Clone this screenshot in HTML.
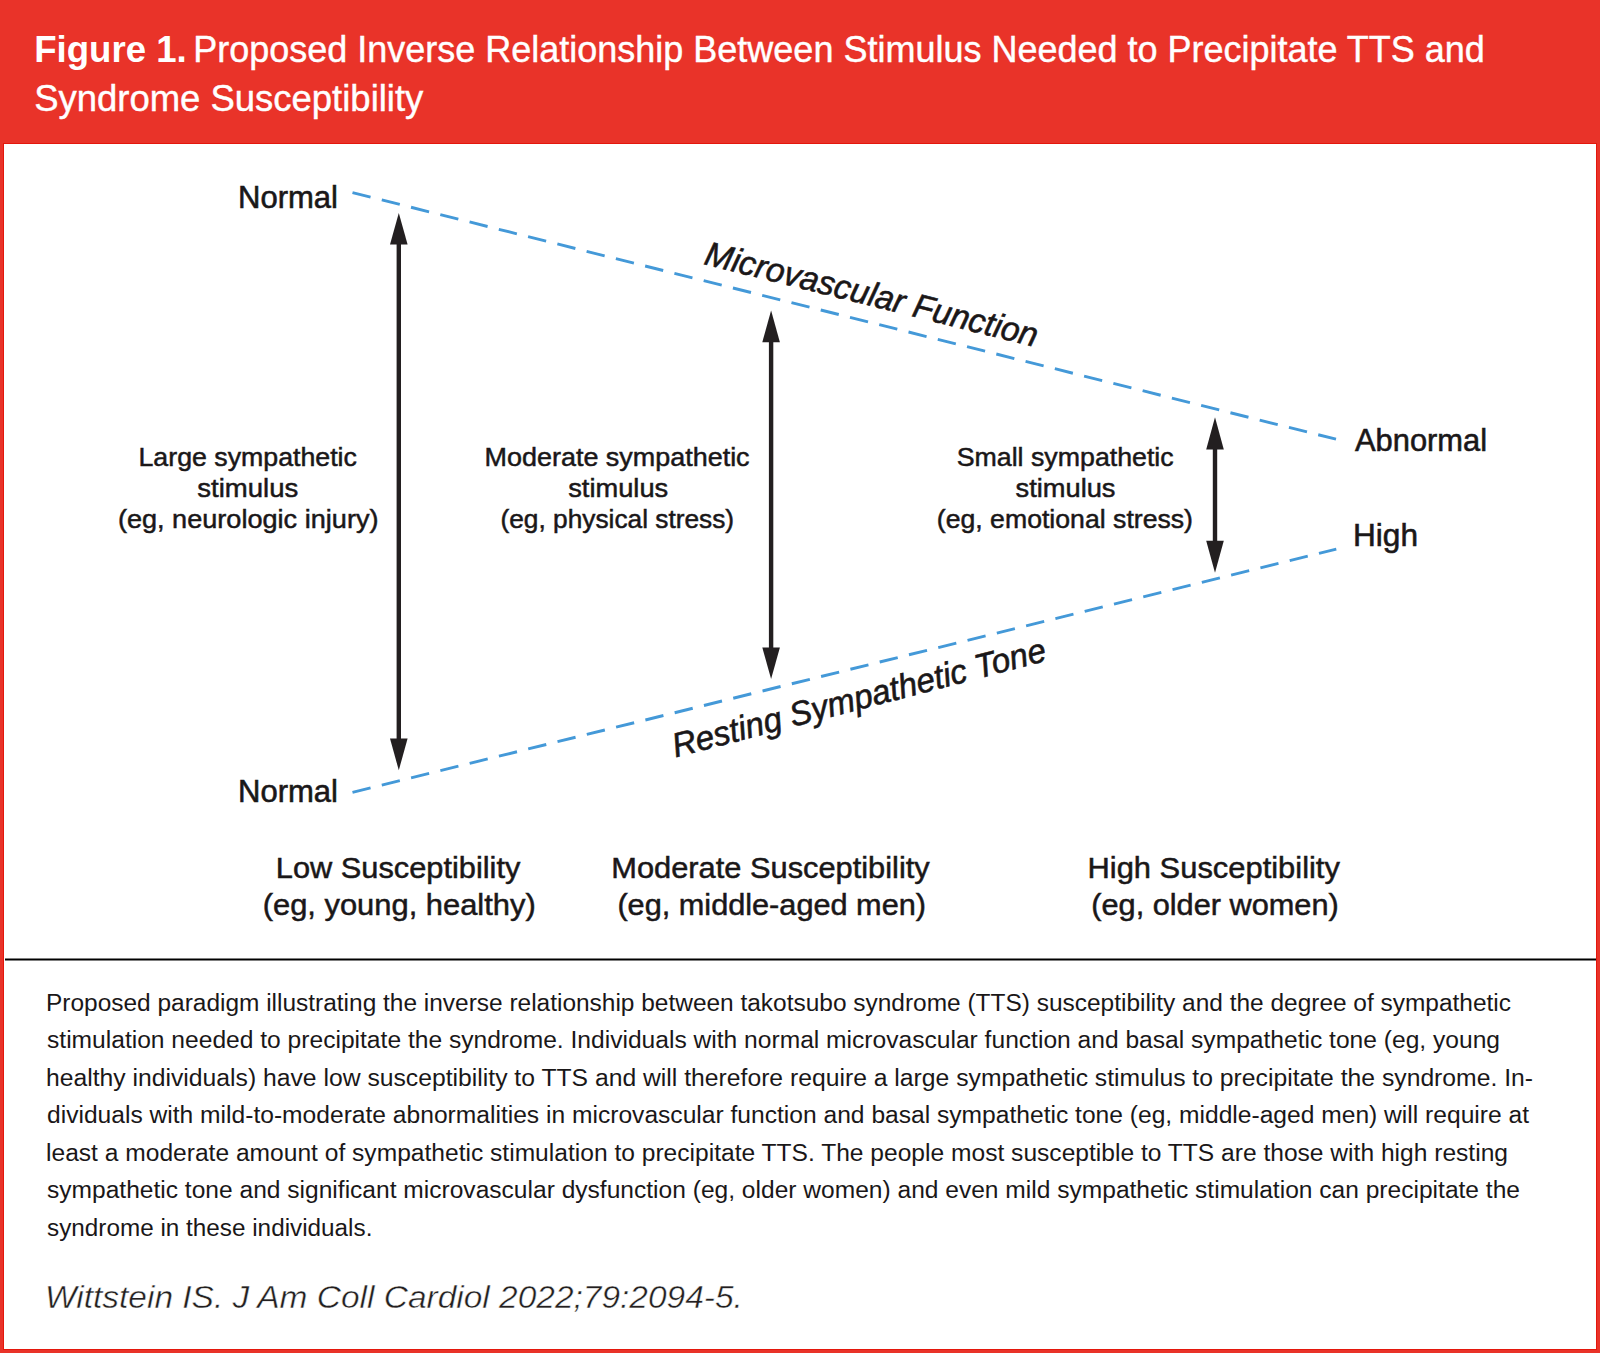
<!DOCTYPE html>
<html>
<head>
<meta charset="utf-8">
<style>
html,body{margin:0;padding:0;}
body{width:1600px;height:1353px;overflow:hidden;background:#e93329;position:relative;font-family:"Liberation Sans",sans-serif;}
#panel{position:absolute;left:4px;top:144px;width:1592px;height:1205px;background:#fff;box-shadow:0 0 0 1px #e4170c;}
svg{position:absolute;left:0;top:0;}
</style>
</head>
<body>
<div id="panel"></div>
<svg width="1600" height="1353" viewBox="0 0 1600 1353" font-family="Liberation Sans, sans-serif">
  <!-- Title -->
  <g fill="#fff" font-size="35">
    <text transform="translate(34.2,61.6) scale(1,1.08)" font-weight="bold" textLength="152.5" lengthAdjust="spacingAndGlyphs">Figure 1.</text>
    <text transform="translate(193.2,61.6) scale(1,1.08)" stroke="#fff" stroke-width="0.4" textLength="1291.7" lengthAdjust="spacingAndGlyphs">Proposed Inverse Relationship Between Stimulus Needed to Precipitate TTS and</text>
    <text transform="translate(34.2,110.6) scale(1,1.08)" stroke="#fff" stroke-width="0.4" textLength="389.1" lengthAdjust="spacingAndGlyphs">Syndrome Susceptibility</text>
  </g>

  <!-- dashed lines -->
  <g stroke="#4499d8" stroke-width="2.9" stroke-dasharray="18.6 11.57" fill="none">
    <line x1="352.5" y1="192.6" x2="1336" y2="439.2"/>
    <line x1="352.5" y1="792.4" x2="1336.3" y2="549.1"/>
  </g>

  <!-- arrows -->
  <g fill="#231f20">
    <rect x="396.6" y="243.4" width="4.4" height="496.0"/>
    <polygon points="398.8,212.9 390.0,244.4 407.6,244.4"/>
    <polygon points="398.8,770.3 390.0,738.4 407.6,738.4"/>
    <rect x="768.9" y="341.2" width="4.4" height="307.2"/>
    <polygon points="771.1,310.4 762.3,342.2 779.9,342.2"/>
    <polygon points="771.1,679.1 762.3,647.4 779.9,647.4"/>
    <rect x="1212.8" y="448.4" width="4.4" height="93.3"/>
    <polygon points="1215.0,417.3 1206.2,449.4 1223.8,449.4"/>
    <polygon points="1215.0,572.8 1206.2,540.7 1223.8,540.7"/>
  </g>

  <!-- endpoint labels -->
  <g fill="#1a1718" font-size="32" stroke="#1a1718" stroke-width="0.6">
    <text x="238.0" y="207.5" textLength="100.0" lengthAdjust="spacingAndGlyphs">Normal</text>
    <text x="238.0" y="802" textLength="100.0" lengthAdjust="spacingAndGlyphs">Normal</text>
    <text x="1355.0" y="451" textLength="132.0" lengthAdjust="spacingAndGlyphs">Abnormal</text>
    <text x="1353.0" y="546" textLength="65.0" lengthAdjust="spacingAndGlyphs">High</text>
  </g>

  <!-- rotated labels -->
  <g fill="#1a1718" font-size="34" font-style="italic" stroke="#1a1718" stroke-width="0.6">
    <text transform="translate(703,264) rotate(14.04)" x="0" y="0" textLength="342" lengthAdjust="spacingAndGlyphs">Microvascular Function</text>
    <text transform="translate(675.4,757.5) rotate(-14.6)" x="0" y="0" textLength="385" lengthAdjust="spacingAndGlyphs">Resting Sympathetic Tone</text>
  </g>

  <!-- stimulus labels -->
  <g fill="#1a1718" font-size="26" text-anchor="middle" stroke="#1a1718" stroke-width="0.5">
    <text x="247.7" y="465.6" textLength="218.4" lengthAdjust="spacingAndGlyphs">Large sympathetic</text>
    <text x="247.8" y="497.3" textLength="101.0" lengthAdjust="spacingAndGlyphs">stimulus</text>
    <text x="248.2" y="528.3" textLength="260.6" lengthAdjust="spacingAndGlyphs">(eg, neurologic injury)</text>

    <text x="617.1" y="465.6" textLength="265.0" lengthAdjust="spacingAndGlyphs">Moderate sympathetic</text>
    <text x="618.2" y="497.3" textLength="100.0" lengthAdjust="spacingAndGlyphs">stimulus</text>
    <text x="617.3" y="528.3" textLength="233.6" lengthAdjust="spacingAndGlyphs">(eg, physical stress)</text>

    <text x="1065.2" y="465.6" textLength="217.0" lengthAdjust="spacingAndGlyphs">Small sympathetic</text>
    <text x="1065.5" y="497.3" textLength="100.0" lengthAdjust="spacingAndGlyphs">stimulus</text>
    <text x="1064.9" y="528.3" textLength="256.2" lengthAdjust="spacingAndGlyphs">(eg, emotional stress)</text>
  </g>

  <!-- susceptibility labels -->
  <g fill="#1a1718" font-size="29.5" text-anchor="middle" stroke="#1a1718" stroke-width="0.5">
    <text x="398.1" y="877.8" textLength="244.6" lengthAdjust="spacingAndGlyphs">Low Susceptibility</text>
    <text x="399.2" y="914.6" textLength="273.0" lengthAdjust="spacingAndGlyphs">(eg, young, healthy)</text>
    <text x="770.5" y="877.8" textLength="318.4" lengthAdjust="spacingAndGlyphs">Moderate Susceptibility</text>
    <text x="771.7" y="914.6" textLength="308.6" lengthAdjust="spacingAndGlyphs">(eg, middle-aged men)</text>
    <text x="1213.7" y="877.8" textLength="252.4" lengthAdjust="spacingAndGlyphs">High Susceptibility</text>
    <text x="1215" y="914.6" textLength="247.4" lengthAdjust="spacingAndGlyphs">(eg, older women)</text>
  </g>

  <!-- separator -->
  <rect x="5" y="958.5" width="1591" height="2" fill="#000"/>

  <!-- caption -->
  <g fill="#1a1718" font-size="23">
    <text x="46.0" y="1010.5" textLength="1465.0" lengthAdjust="spacingAndGlyphs">Proposed paradigm illustrating the inverse relationship between takotsubo syndrome (TTS) susceptibility and the degree of sympathetic</text>
    <text x="47.0" y="1048" textLength="1453.0" lengthAdjust="spacingAndGlyphs">stimulation needed to precipitate the syndrome. Individuals with normal microvascular function and basal sympathetic tone (eg, young</text>
    <text x="46.0" y="1085.5" textLength="1487.0" lengthAdjust="spacingAndGlyphs">healthy individuals) have low susceptibility to TTS and will therefore require a large sympathetic stimulus to precipitate the syndrome. In-</text>
    <text x="47.0" y="1123" textLength="1482.0" lengthAdjust="spacingAndGlyphs">dividuals with mild-to-moderate abnormalities in microvascular function and basal sympathetic tone (eg, middle-aged men) will require at</text>
    <text x="46.0" y="1160.5" textLength="1462.0" lengthAdjust="spacingAndGlyphs">least a moderate amount of sympathetic stimulation to precipitate TTS. The people most susceptible to TTS are those with high resting</text>
    <text x="47.0" y="1198" textLength="1473.0" lengthAdjust="spacingAndGlyphs">sympathetic tone and significant microvascular dysfunction (eg, older women) and even mild sympathetic stimulation can precipitate the</text>
    <text x="47.0" y="1235.5" textLength="325.4" lengthAdjust="spacingAndGlyphs">syndrome in these individuals.</text>
  </g>

  <!-- citation -->
  <text x="45.0" y="1307.5" fill="#231f20" stroke="#fff" stroke-width="0.45" font-size="32" font-style="italic" textLength="697.8" lengthAdjust="spacingAndGlyphs">Wittstein IS. J Am Coll Cardiol 2022;79:2094-5.</text>
</svg>
</body>
</html>
